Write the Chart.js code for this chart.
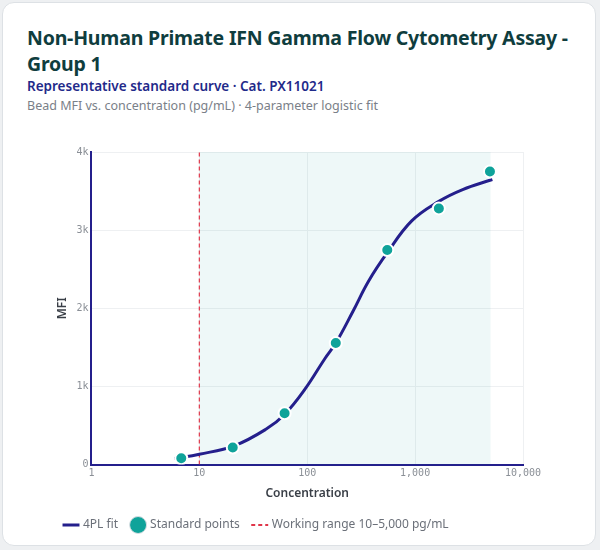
<!DOCTYPE html>
<html><head><meta charset="utf-8">
<script src="https://cdn.jsdelivr.net/npm/chart.js@4"></script>
<style>
body{margin:0;background:#eef0f2;font-family:"Noto Sans",sans-serif;}
.card{position:absolute;left:2px;top:2px;width:594px;height:544px;background:#fff;border:1px solid #dde1e5;border-radius:12px;box-sizing:border-box;}
h1{margin:0;position:absolute;left:24px;top:22px;width:560px;font-size:19.5px;line-height:26px;color:#0f3d3e;font-weight:700;letter-spacing:-0.2px;}
.sub{position:absolute;left:24px;top:74px;font-size:13.5px;font-weight:600;color:#1f2a8a;}
.cap{position:absolute;left:24px;top:94px;font-size:12.5px;color:#7a8088;}
.wrap{position:absolute;left:10px;top:140px;width:576px;height:398px;}
</style></head><body>
<div class="card">
<h1>Non-Human Primate IFN Gamma Flow Cytometry Assay - Group 1</h1>
<div class="sub">Representative standard curve · Cat. PX11021</div>
<div class="cap">Bead MFI vs. concentration (pg/mL) · 4-parameter logistic fit</div>
<div class="wrap"><canvas id="c"></canvas></div>
</div>
<script>
const pointConc = [6.8, 20.4, 61.7, 184, 552, 1660, 4940];
const pointMfi = [82, 219, 657, 1555, 2745, 3278, 3751];
const fitConc = [5.9, 10, 21, 41.7, 62, 96, 146, 184, 265, 370, 552, 930, 1660, 2760, 5200];
const fitMfi = [77, 133, 240, 455, 645, 971, 1358, 1555, 1959, 2346, 2711, 3119, 3368, 3519, 3648];
const rangeLow = 10, rangeHigh = 5000;
const xTicks = [1, 10, 100, 1000, 10000];

const shade = {
  id: 'shade',
  beforeDatasetsDraw(chart) {
    const {ctx, chartArea: a, scales: {x}} = chart;
    ctx.save();
    ctx.fillStyle = 'rgba(20,160,160,0.07)';
    const l = x.getPixelForValue(rangeLow), r = x.getPixelForValue(rangeHigh);
    ctx.fillRect(l, a.top, r - l, a.bottom - a.top);
    ctx.restore();
  }
};

new Chart(document.getElementById('c'), {
  type: 'scatter',
  data: {
    datasets: [{
      label: '4PL fit', type: 'line',
      data: fitConc.map((c, i) => ({x: c, y: fitMfi[i]})),
      borderColor: '#241f8c', borderWidth: 3, pointRadius: 0, tension: 0.4, order: 2
    }, {
      label: 'Standard points',
      data: pointConc.map((c, i) => ({x: c, y: pointMfi[i]})),
      backgroundColor: '#0fa39a', borderColor: '#fff', borderWidth: 2, pointRadius: 6, order: 1
    }, {
      label: 'Working range 10–5,000 pg/mL', type: 'line',
      data: [{x: rangeLow, y: 0}, {x: rangeLow, y: 4000}],
      borderColor: '#e0364a', borderWidth: 1.2, borderDash: [4, 3], pointRadius: 0, order: 3
    }]
  },
  options: {
    responsive: true, maintainAspectRatio: false, animation: false,
    layout: {padding: {left: 38, right: 66, top: 8}},
    plugins: {
      legend: {
        position: 'bottom', align: 'start',
        labels: {
          color: '#6b7079', font: {family: 'Noto Sans', size: 12}, padding: 14,
          usePointStyle: true,
          generateLabels(chart) {
            return chart.data.datasets.map((d, i) => ({
              text: d.label, datasetIndex: i, fontColor: '#6b7079',
              fillStyle: i === 1 ? '#0fa39a' : d.borderColor,
              strokeStyle: i === 1 ? '#d8dde2' : d.borderColor,
              lineWidth: i === 1 ? 1 : (i === 0 ? 3 : 2),
              lineDash: i === 2 ? [4, 3] : [],
              pointStyle: i === 1 ? 'circle' : 'line'
            }));
          }
        }
      },
      tooltip: {enabled: false}
    },
    scales: {
      x: {
        type: 'logarithmic', min: 1, max: 10000,
        afterBuildTicks(s) { s.ticks = xTicks.map(v => ({value: v})); },
        ticks: {color: '#8a8f96', font: {family: 'DejaVu Sans Mono', size: 10}, callback: v => v.toLocaleString('en-US')},
        grid: {color: '#eef0f2', drawTicks: false},
        border: {color: '#241f8c', width: 2},
        title: {display: true, text: 'Concentration', color: '#3a3f47', font: {family: 'Noto Sans', size: 12, weight: '600'}}
      },
      y: {
        min: 0, max: 4000,
        ticks: {stepSize: 1000, color: '#8a8f96', font: {family: 'DejaVu Sans Mono', size: 10}, callback: v => v === 0 ? '0' : (v / 1000) + 'k'},
        grid: {color: '#eef0f2', drawTicks: false},
        border: {color: '#241f8c', width: 2},
        title: {display: true, text: 'MFI', color: '#3a3f47', font: {family: 'Noto Sans', size: 12, weight: '600'}}
      }
    }
  },
  plugins: [shade]
});
</script>
</body></html>
